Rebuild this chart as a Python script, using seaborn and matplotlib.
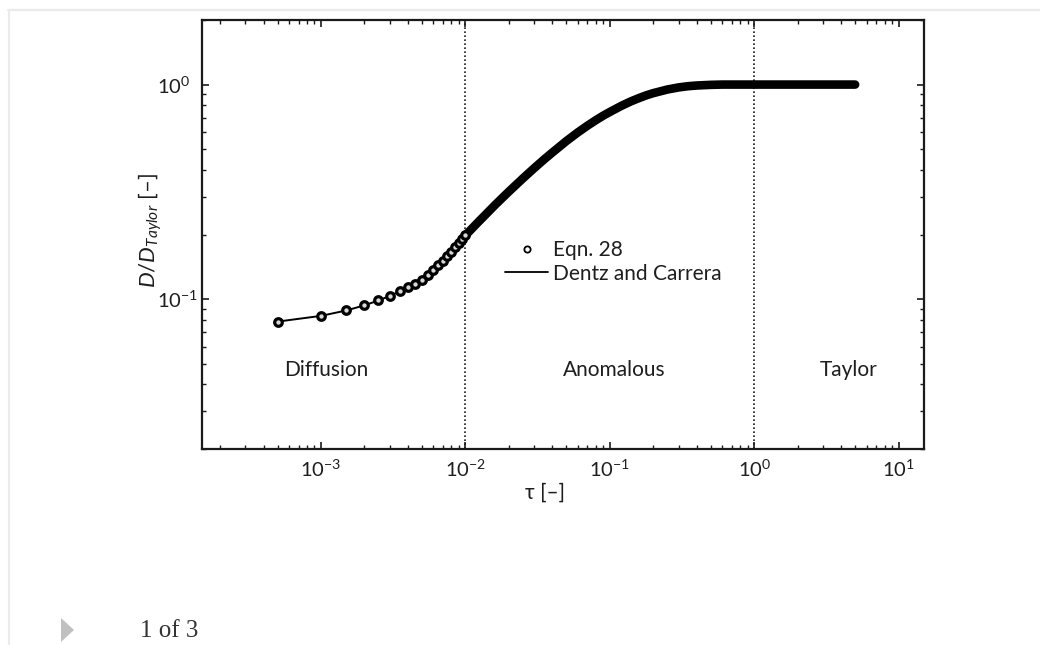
import matplotlib
matplotlib.use("Agg")
import numpy as np
import matplotlib.pyplot as plt
import seaborn as sns
from matplotlib.lines import Line2D
from matplotlib.patches import Polygon
from matplotlib.ticker import LogLocator, NullFormatter, LogFormatterSciNotation

# Dimensionless time tau and normalised dispersion D/D_Taylor (Eqn. 28),
# early-time samples that show as separate circles
tau_markers = [0.0005, 0.0010, 0.0015, 0.0020, 0.0025, 0.0030, 0.0035, 0.0040,
               0.0045, 0.0050, 0.0055, 0.0060, 0.0065, 0.0070, 0.0075, 0.0080,
               0.0085, 0.0090, 0.0095, 0.0100]
ratio_markers = [0.0785, 0.0835, 0.0885, 0.0935, 0.0985, 0.1035, 0.1085, 0.1135,
                 0.1180, 0.1230, 0.1300, 0.1370, 0.1440, 0.1510, 0.1580, 0.1660,
                 0.1740, 0.1820, 0.1900, 0.1980]

# later samples, packed so closely that the circles merge into a band
tau_band = [0.0100, 0.012, 0.014, 0.016, 0.018, 0.020, 0.025, 0.030, 0.035, 0.040,
            0.050, 0.060, 0.070, 0.080, 0.090, 0.10, 0.12, 0.14, 0.16, 0.18, 0.20,
            0.25, 0.30, 0.35, 0.40, 0.50, 0.60, 0.80, 1.0, 1.5, 2.0, 3.0, 4.0, 5.0]
ratio_band = [0.198, 0.225, 0.250, 0.274, 0.296, 0.317, 0.365, 0.408, 0.447, 0.482,
              0.545, 0.598, 0.643, 0.682, 0.716, 0.745, 0.795, 0.835, 0.866, 0.892,
              0.912, 0.948, 0.970, 0.983, 0.990, 0.997, 1.0, 1.0, 1.0, 1.0, 1.0,
              1.0, 1.0, 1.0]

# regime boundaries and labels
regime_bounds = [1e-2, 1e0]
regime_names = ["Diffusion", "Anomalous", "Taylor"]
regime_label_tau = [1.08e-3, 0.108, 4.5]

legend_labels = ["Eqn. 28", "Dentz and Carrera"]

sns.set_theme(style="ticks")
plt.rcParams.update({
    "font.family": ["Lato", "DejaVu Sans"],
    "mathtext.fontset": "custom",
    "mathtext.rm": "Lato",
    "mathtext.it": "Lato:italic",
    "mathtext.bf": "Lato:bold",
    "mathtext.default": "regular",
    "axes.linewidth": 1.6,
    "axes.edgecolor": "#1a1a1a",
    "text.color": "#1e1e1e",
    "axes.labelcolor": "#1e1e1e",
    "xtick.color": "#1a1a1a",
    "ytick.color": "#1a1a1a",
    "xtick.labelcolor": "#1e1e1e",
    "ytick.labelcolor": "#1e1e1e",
})

W, H = 1040, 645
fig = plt.figure(figsize=(W / 100, H / 100), dpi=100)
ax = fig.add_axes([202 / W, 1 - 449 / H, 722 / W, 429 / H])
ax.set_xscale("log")
ax.set_yscale("log")
ax.set_xlim(1.5e-4, 15)
ax.set_ylim(0.02, 2)

# dotted regime boundaries
for xb in regime_bounds:
    ax.axvline(xb, color="#1a1a1a", lw=1.2, ls=(0, (1.0, 1.4)), zorder=1)

tau_all = tau_markers + tau_band[1:]
ratio_all = ratio_markers + ratio_band[1:]

# dense band of merged circles
sns.lineplot(x=tau_band, y=ratio_band, ax=ax, color="black", lw=6.2,
             solid_capstyle="round", estimator=None, sort=False, legend=False,
             zorder=2)
# Dentz and Carrera curve
sns.lineplot(x=tau_all, y=ratio_all, ax=ax, color="black", lw=1.4,
             estimator=None, sort=False, legend=False, zorder=3)
# Eqn. 28 circles
sns.scatterplot(x=tau_markers, y=ratio_markers, ax=ax, marker="o", s=30,
                facecolor="#d8d8d8", edgecolor="black", linewidth=2.3,
                legend=False, zorder=4)

# ticks
for axis in (ax.xaxis, ax.yaxis):
    axis.set_major_locator(LogLocator(base=10, numticks=20))
    axis.set_minor_locator(LogLocator(base=10, subs=np.arange(2, 10), numticks=20))
    axis.set_minor_formatter(NullFormatter())
    axis.set_major_formatter(LogFormatterSciNotation(base=10))
ax.tick_params(which="both", direction="in", top=True, right=True)
ax.tick_params(which="major", length=5, width=1.2, labelsize=14.5)
ax.tick_params(axis="x", which="major", pad=7)
# y tick labels start at a common left edge
ax.tick_params(axis="y", which="major", pad=32.4)
for lab in ax.get_yticklabels():
    lab.set_horizontalalignment("left")
ax.tick_params(which="minor", length=2.6, width=1.0)

# axis labels
ax.set_xlabel("τ [–]", fontsize=15)
ax.xaxis.set_label_coords(0.475, -0.079)
ax.set_ylabel(r"$\mathit{D/D}_{\mathit{Taylor}}$ [–]", fontsize=16)
ax.yaxis.set_label_coords(-0.052, 0.51)

# regime labels
for name, xt in zip(regime_names, regime_label_tau):
    ax.text(xt, 0.184, name, transform=ax.get_xaxis_transform(),
            ha="center", va="center", fontsize=15, color="#1e1e1e")

# legend
handles = [
    Line2D([], [], marker="o", ls="none", mfc="white", mec="black", ms=4.5, mew=1.3),
    Line2D([], [], color="black", lw=1.3),
]
fig.legend(handles, legend_labels, loc="center left",
           bbox_to_anchor=(505 / W, 1 - 262 / H), frameon=False,
           borderpad=0, borderaxespad=0, handlelength=2.07,
           handletextpad=0.25, labelspacing=0.15, fontsize=15)

# page furniture around the figure
fig.add_artist(Line2D([8 / W, 1.0], [1 - 9.5 / H, 1 - 9.5 / H],
                      color="#ebebeb", lw=1.6))
fig.add_artist(Line2D([8.5 / W, 8.5 / W], [0, 1 - 9.5 / H],
                      color="#ebebeb", lw=1.6))
fig.add_artist(Polygon([(61 / W, 1 - 618 / H), (61 / W, 1 - 642 / H),
                        (74 / W, 1 - 630 / H)], closed=True,
                       facecolor="#c0c0c0", edgecolor="none"))
fig.text(140 / W, 1 - 631 / H, "1 of 3", family=["Liberation Serif"],
         fontsize=18, color="#333333", va="center", ha="left")

fig.savefig("out.png", dpi=100)
